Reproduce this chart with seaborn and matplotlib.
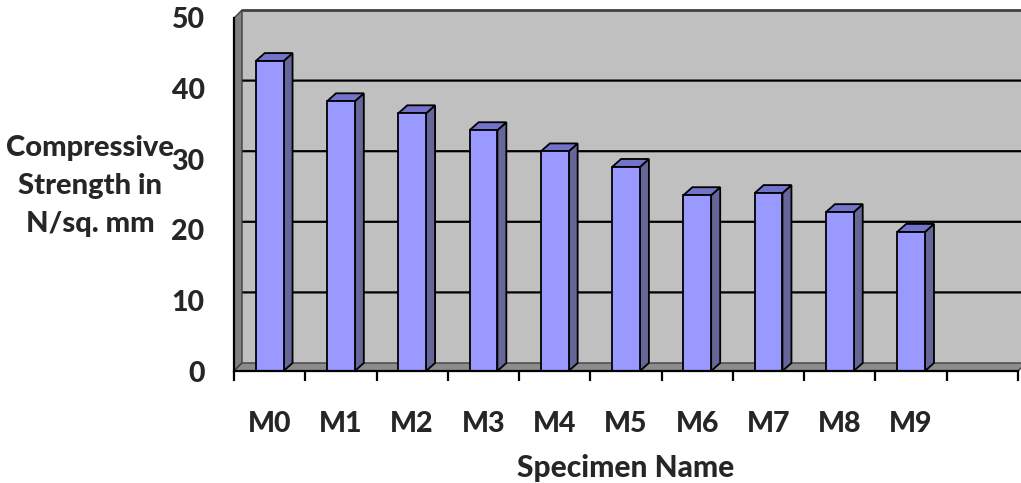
import matplotlib
matplotlib.use("Agg")
import matplotlib.pyplot as plt
import numpy as np
import seaborn as sns
from matplotlib.patches import Polygon
from matplotlib.ticker import FixedLocator

# Compressive strength per mix
specimens = ["M0", "M1", "M2", "M3", "M4", "M5", "M6", "M7", "M8", "M9"]
strength = [43.9, 38.2, 36.5, 34.1, 31.1, 28.9, 24.9, 25.2, 22.5, 19.7]
y_ticks = [0, 10, 20, 30, 40, 50]
n_slots = 11          # one spare category slot on the right
y_max = 50

sns.set_theme(style="white")
plt.rcParams["font.family"] = ["Lato", "DejaVu Sans"]
FW = 900
plt.rcParams["font.weight"] = FW
FS = 20.5

W, H = 1021, 483
fig = plt.figure(figsize=(W / 100, H / 100), dpi=100)
ax_l, ax_r, ax_b, ax_t = 234, 1018, 371, 18
ax = fig.add_axes([ax_l / W, (H - ax_b) / H, (ax_r - ax_l) / W, (ax_b - ax_t) / H])
ax.set_facecolor("none")

sns.barplot(x=specimens, y=strength, color="#9999FF", saturation=1, width=0.39,
            edgecolor="black", linewidth=1.3, ax=ax, zorder=3)
bars = list(ax.patches)

ax.set_xlim(-0.5, n_slots - 0.5)
ax.set_ylim(0, y_max)

# data units per pixel, for the oblique depth of the 3-D look
ux = n_slots / (ax_r - ax_l)
uy = y_max / (ax_b - ax_t)
dx, dy = 8 * ux, 8 * uy          # walls
bdx, bdy = 9 * ux, 8 * uy        # column depth
x0, x1 = -0.5, n_slots - 0.5

wall_edge = "#404040"
ax.add_patch(Polygon([(x0 + dx, dy), (x1 + dx, dy), (x1 + dx, y_max + dy), (x0 + dx, y_max + dy)],
                     closed=True, fc="#C0C0C0", ec="none", zorder=0.1, clip_on=False))
ax.add_patch(Polygon([(x0, 0), (x0 + dx, dy), (x0 + dx, y_max + dy), (x0, y_max)],
                     closed=True, fc="#808080", ec=wall_edge, lw=1, zorder=0.6, clip_on=False))
ax.add_patch(Polygon([(x0, 0), (x1, 0), (x1 + dx, dy), (x0 + dx, dy)],
                     closed=True, fc="#8C8C8C", ec=wall_edge, lw=1, zorder=0.6, clip_on=False))
ax.plot([x0 + dx, x1 + dx], [y_max + dy, y_max + dy], color=wall_edge, lw=2,
        zorder=0.7, clip_on=False)

# gridlines run across the side wall and along the back wall
for v in y_ticks[1:-1]:
    ax.plot([x0, x0 + dx, x1 + dx], [v, v + dy, v + dy], color="black", lw=1.6,
            zorder=0.5, clip_on=False)

# side and top faces of each column
for p in bars:
    x, w, h = p.get_x(), p.get_width(), p.get_height()
    ax.add_patch(Polygon([(x + w, 0), (x + w + bdx, bdy), (x + w + bdx, h + bdy), (x + w, h)],
                         closed=True, fc="#666699", ec="black", lw=1.3, zorder=2.9, clip_on=False))
    ax.add_patch(Polygon([(x, h), (x + w, h), (x + w + bdx, h + bdy), (x + bdx, h + bdy)],
                         closed=True, fc="#7373CC", ec="black", lw=1.3, zorder=2.9, clip_on=False))

for s in ["top", "right"]:
    ax.spines[s].set_visible(False)
for s in ["left", "bottom"]:
    ax.spines[s].set_color("black")
    ax.spines[s].set_linewidth(1.6)
    ax.spines[s].set_zorder(4)

ax.set_yticks(y_ticks)
ax.tick_params(axis="y", length=7.2, width=1.6, color="black", direction="out",
               pad=14, labelsize=FS)
ax.set_xticks(range(len(specimens)), labels=specimens)
ax.xaxis.set_minor_locator(FixedLocator(np.arange(x0, x1 + 0.01, 1)))
ax.tick_params(axis="x", which="major", length=0, pad=29, labelsize=FS)
ax.tick_params(axis="x", which="minor", length=7.2, width=1.6, color="black",
               direction="out", bottom=True)
for lab in ax.get_xticklabels() + ax.get_yticklabels():
    lab.set_fontweight(FW)

ax.set_xlabel("Specimen Name", fontsize=FS + 1, fontweight=FW)
ax.xaxis.set_label_coords(0.5, -0.235)
ax.set_ylabel("Compressive\nStrength in\nN/sq. mm", fontsize=FS + 0.5, fontweight=FW,
              rotation=0, ha="center", va="center", multialignment="center", linespacing=1.58)
ax.yaxis.set_label_coords((90 - ax_l) / (ax_r - ax_l), (ax_b - 186) / (ax_b - ax_t))

fig.savefig("out.png", dpi=100)
